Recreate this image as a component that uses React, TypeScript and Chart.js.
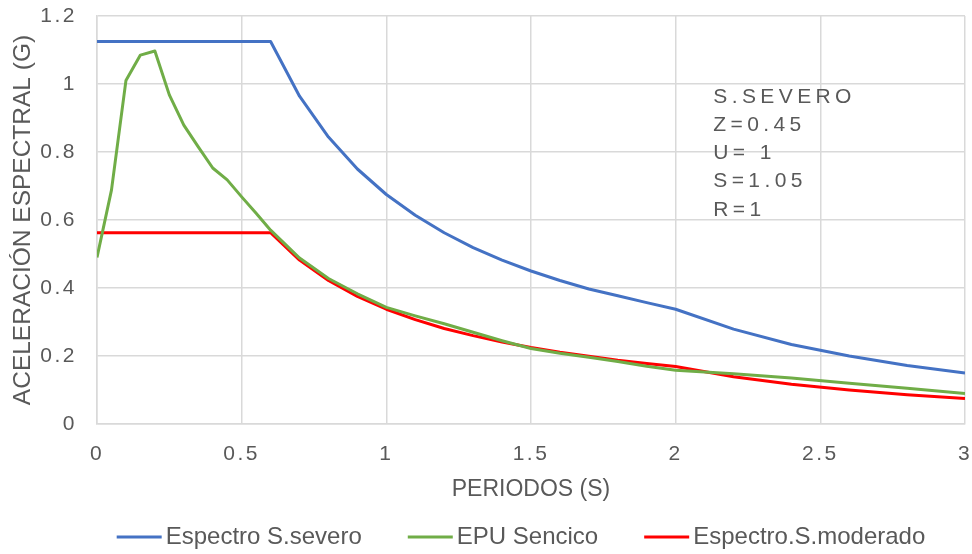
import React, { useEffect, useRef } from "react";
import { Chart, registerables } from "chart.js";

Chart.register(...registerables);

// ---- Data ----
const periodsSevero = [0, 0.6, 0.7, 0.8, 0.9, 1.0, 1.1, 1.2, 1.3, 1.4, 1.5, 1.6, 1.7, 1.8, 1.9, 2.0, 2.2, 2.4, 2.6, 2.8, 3.0];
const accelSevero = [1.125, 1.125, 0.964, 0.844, 0.75, 0.675, 0.614, 0.5625, 0.519, 0.482, 0.45, 0.422, 0.397, 0.377, 0.357, 0.3375, 0.279, 0.234, 0.2, 0.172, 0.15];

const periodsEPU = [0, 0.05, 0.1, 0.15, 0.2, 0.25, 0.3, 0.35, 0.4, 0.45, 0.5, 0.55, 0.6, 0.7, 0.8, 0.9, 1.0, 1.1, 1.2, 1.3, 1.4, 1.5, 1.6, 1.7, 1.8, 1.9, 2.0, 2.2, 2.4, 2.6, 2.8, 3.0];
const accelEPU = [0.49, 0.688, 1.01, 1.085, 1.097, 0.968, 0.879, 0.815, 0.753, 0.718, 0.668, 0.62, 0.57, 0.488, 0.428, 0.383, 0.343, 0.318, 0.295, 0.27, 0.245, 0.222, 0.208, 0.196, 0.184, 0.17, 0.158, 0.148, 0.135, 0.12, 0.105, 0.09];

const periodsModerado = [0, 0.6, 0.7, 0.8, 0.9, 1.0, 1.1, 1.2, 1.3, 1.4, 1.5, 1.6, 1.7, 1.8, 1.9, 2.0, 2.2, 2.4, 2.6, 2.8, 3.0];
const accelModerado = [0.5625, 0.5625, 0.482, 0.422, 0.375, 0.3375, 0.307, 0.281, 0.26, 0.241, 0.225, 0.211, 0.199, 0.1875, 0.178, 0.169, 0.139, 0.117, 0.1, 0.086, 0.075];

const seriesLabels = ["Espectro S.severo", "EPU Sencico", "Espectro.S.moderado"];
const seriesColors = ["#4472C4", "#70AD47", "#FF0000"];

const xMin = 0;
const xMax = 3;
const xStep = 0.5;
const yMin = 0;
const yMax = 1.2;
const yStep = 0.2;

const xTitle = "PERIODOS (S)";
const yTitle = "ACELERACIÓN ESPECTRAL (G)";

const annotationLines = ["S.SEVERO", "Z=0.45", "U= 1", "S=1.05", "R=1"];
const annotationX = 2.13;
const annotationY = 0.945;

const FONT = "'Liberation Sans', Arial, Helvetica, sans-serif";
const TEXT = "#595959";
const GRID = "#d9d9d9";

function toPoints(xs: number[], ys: number[]) {
  return xs.map((x, i) => ({ x, y: ys[i] }));
}

function fmt(v: number | string) {
  return String(Number(Number(v).toFixed(2)));
}

export default function App() {
  const ref = useRef<HTMLCanvasElement | null>(null);

  useEffect(() => {
    const canvas = ref.current;
    if (!canvas) return;

    const spacingPlugin = {
      id: "spacing",
      afterDatasetsDraw(chart: any) {
        chart.ctx.letterSpacing = "2.5px";
      },
      afterDraw(chart: any) {
        const ctx = chart.ctx;
        const area = chart.chartArea;
        ctx.save();
        ctx.letterSpacing = "4.4px";
        ctx.fillStyle = TEXT;
        ctx.font = `21px ${FONT}`;
        ctx.textAlign = "left";
        ctx.textBaseline = "alphabetic";
        const ax = chart.scales.x.getPixelForValue(annotationX);
        const ay = chart.scales.y.getPixelForValue(annotationY);
        annotationLines.forEach((t, i) => ctx.fillText(t, ax, ay + i * 28.2));

        ctx.letterSpacing = "0px";
        ctx.font = `24px ${FONT}`;
        ctx.textBaseline = "middle";
        const lineW = 45;
        const gapLT = 4;
        const gapItems = 46;
        const widths = seriesLabels.map((l) => ctx.measureText(l).width);
        const total = widths.reduce((a, w) => a + lineW + gapLT + w, 0) + gapItems * (seriesLabels.length - 1);
        let x = (area.left + area.right) / 2 - 10 - total / 2;
        const y = 537;
        seriesLabels.forEach((l, i) => {
          ctx.strokeStyle = seriesColors[i];
          ctx.lineWidth = 3;
          ctx.beginPath();
          ctx.moveTo(x, y);
          ctx.lineTo(x + lineW, y);
          ctx.stroke();
          ctx.fillStyle = TEXT;
          ctx.fillText(l, x + lineW + gapLT, y);
          x += lineW + gapLT + widths[i] + gapItems;
        });
        ctx.restore();
        ctx.letterSpacing = "0px";
      },
    };

    const mk = (i: number, data: { x: number; y: number }[]) => ({
      label: seriesLabels[i],
      data,
      borderColor: seriesColors[i],
      backgroundColor: seriesColors[i],
      borderWidth: 3,
      pointRadius: 0,
      fill: false,
      tension: 0,
      borderJoinStyle: "round" as const,
    });

    const chart = new Chart(canvas, {
      type: "line",
      data: {
        datasets: [
          mk(0, toPoints(periodsSevero, accelSevero)),
          mk(1, toPoints(periodsEPU, accelEPU)),
          mk(2, toPoints(periodsModerado, accelModerado)),
        ],
      },
      options: {
        responsive: false,
        animation: false,
        events: [],
        layout: { padding: { top: 16, right: 7, bottom: 36, left: 0 } },
        plugins: {
          legend: { display: false },
          tooltip: { enabled: false },
          title: { display: false },
        },
        scales: {
          x: {
            type: "linear",
            min: xMin,
            max: xMax,
            ticks: {
              stepSize: xStep,
              color: TEXT,
              font: { family: FONT, size: 21 },
              padding: 18,
              maxRotation: 0,
              z: 1,
              callback: (v: any) => fmt(v),
            },
            grid: { color: GRID, lineWidth: 1.5, drawTicks: false },
            border: { color: GRID, width: 1.5 },
            title: {
              display: true,
              text: xTitle,
              color: TEXT,
              font: { family: FONT, size: 23 },
              padding: { top: 0, bottom: 15 },
            },
            afterFit(scale: any) {
              scale.height = 94;
              scale.paddingLeft = 0;
              scale.paddingRight = 0;
            },
          },
          y: {
            type: "linear",
            min: yMin,
            max: yMax,
            ticks: {
              stepSize: yStep,
              color: TEXT,
              font: { family: FONT, size: 21 },
              padding: 20,
              z: 1,
              callback: (v: any) => fmt(v),
            },
            grid: { color: GRID, lineWidth: 1.5, drawTicks: false },
            border: { color: GRID, width: 1.5 },
            title: {
              display: true,
              text: yTitle,
              color: TEXT,
              font: { family: FONT, size: 24.5 },
              padding: { top: 9, bottom: 0 },
            },
            afterFit(scale: any) {
              scale.width = 97;
              scale.paddingTop = 0;
              scale.paddingBottom = 0;
            },
          },
        },
      },
      plugins: [spacingPlugin],
    });

    return () => chart.destroy();
  }, []);

  return (
    <div style={{ position: "fixed", left: 0, top: 0, width: 972, height: 554, background: "#fff" }}>
      <canvas ref={ref} width={972} height={554} style={{ display: "block", width: 972, height: 554 }} />
    </div>
  );
}
